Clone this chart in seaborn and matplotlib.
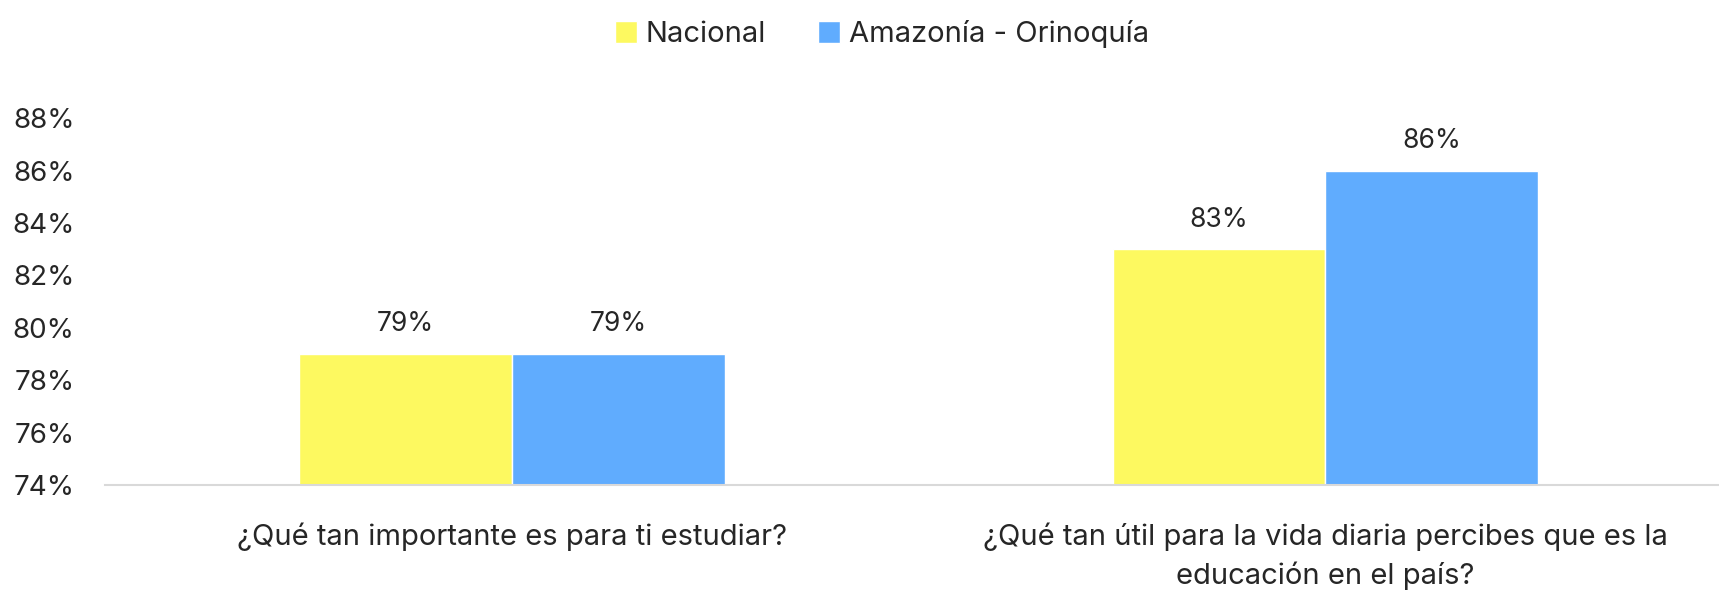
import matplotlib
matplotlib.use("Agg")
import matplotlib.pyplot as plt
import seaborn as sns
import pandas as pd
from matplotlib.patches import Patch

questions = ["¿Qué tan importante es para ti estudiar?",
             "¿Qué tan útil para la vida diaria percibes que es la\neducación en el país?"]
series = ["Nacional", "Amazonía - Orinoquía"]
nacional = [79, 83]
amazonia = [79, 86]
colors = ["#FDF960", "#60ACFE"]

df = pd.DataFrame({
    "pregunta": questions * 2,
    "grupo": [series[0]] * 2 + [series[1]] * 2,
    "valor": nacional + amazonia,
})

sns.set_style("white")
plt.rcParams['font.family'] = ['Inter', 'DejaVu Sans']

fig = plt.figure(figsize=(17.19, 5.91), dpi=100)
ax = fig.add_axes([0.0611, 0.179, 0.9465, 0.621])

sns.barplot(data=df, x="pregunta", y="valor", hue="grupo", palette=colors,
            width=0.523, gap=0, saturation=1, legend=False, ax=ax)

for c in ax.containers:
    ax.bar_label(c, labels=[f"{v:.0f}%" for v in c.datavalues], padding=12, fontsize=19)

ax.set_ylim(74, 88)
ax.set_xlim(-0.5, 1.5)
ax.set_yticks(range(74, 89, 2))
ax.set_yticklabels([f"{t}%" for t in range(74, 89, 2)], fontsize=20)
ax.tick_params(axis='x', labelsize=21, length=0, pad=27)
ax.tick_params(axis='y', length=0, pad=22)
ax.set_xlabel("")
ax.set_ylabel("")
for s in ["top", "right", "left"]:
    ax.spines[s].set_visible(False)
ax.spines["bottom"].set_color("#D9D9D9")
ax.spines["bottom"].set_linewidth(1.5)
for lbl in ax.get_xticklabels():
    lbl.set_linespacing(1.45)

handles = [Patch(facecolor=colors[0]), Patch(facecolor=colors[1])]
fig.legend(handles, series, loc="upper center", bbox_to_anchor=(0.513, 1.01),
           ncol=2, frameon=False, fontsize=21, handlelength=0.75, handleheight=0.75,
           handletextpad=0.3, columnspacing=1.8)

fig.savefig("out.png", dpi=100)
